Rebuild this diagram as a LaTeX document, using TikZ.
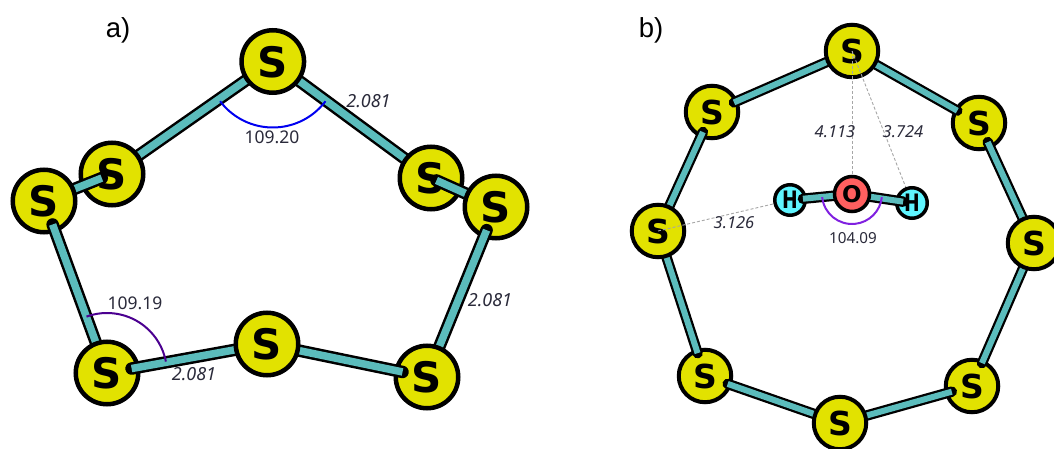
\documentclass[tikz,border=0pt]{standalone}
\usepackage{fontspec}
\setmainfont{Noto Sans}
\newfontfamily\atomfont{DejaVu Sans}[BoldFont={DejaVu Sans Bold}]
\newfontfamily\hfont{DejaVu Sans Bold}[FakeStretch=0.78]
\newfontfamily\panelfont{Liberation Sans}
\definecolor{sulfur}{HTML}{E2E200}
\definecolor{bondc}{HTML}{5BBCBC}
\definecolor{oxy}{HTML}{FF5F5F}
\definecolor{hyd}{HTML}{5FF5FF}
\definecolor{txt}{HTML}{2A2A3A}
\definecolor{angA}{HTML}{0000F0}
\definecolor{angB}{HTML}{4B0090}
\definecolor{angC}{HTML}{8020E0}
\pgfdeclarelayer{l0}\pgfdeclarelayer{l1}\pgfdeclarelayer{l2}\pgfdeclarelayer{l3}
\pgfdeclarelayer{l4}\pgfdeclarelayer{l5}\pgfdeclarelayer{l6}\pgfdeclarelayer{l7}\pgfdeclarelayer{l8}
\pgfsetlayers{l0,l1,l2,l3,l4,l5,l6,l7,l8,main}
\tikzset{
  atomA/.style={circle,draw=black,line width=4.5pt,fill=sulfur,minimum size=62.5pt,inner sep=0pt,
    font=\atomfont\bfseries\fontsize{42}{42}\selectfont,text depth=0pt},
  atomB/.style={circle,draw=black,line width=4pt,fill=sulfur,minimum size=52.5pt,inner sep=0pt,
    font=\atomfont\bfseries\fontsize{33}{33}\selectfont},
  atomO/.style={circle,draw=black,line width=3.5pt,fill=oxy,minimum size=35pt,inner sep=0pt,
    font=\atomfont\bfseries\fontsize{23}{23}\selectfont},
  atomH/.style={circle,draw=black,line width=3.5pt,fill=hyd,minimum size=30.5pt,inner sep=0pt,
    font=\hfont\fontsize{24}{24}\selectfont},
  labA/.style={font=\fontsize{17.5}{17.5}\selectfont,text=txt,inner sep=0pt},
  labB/.style={font=\fontsize{15.2}{15.2}\selectfont,text=txt,inner sep=0pt},
  distA/.style={font=\itshape\fontsize{18}{18}\selectfont,text=txt,inner sep=0pt},
  distB/.style={font=\itshape\fontsize{16.5}{16.5}\selectfont,text=txt,inner sep=0pt},
  panel/.style={font=\panelfont\fontsize{27.5}{27.5}\selectfont,text=black,inner sep=0pt},
  dashln/.style={draw=black!35,line width=0.9pt,dash pattern=on 3pt off 2pt},
  ang/.style={line width=2pt}
}
% \bondln{layer}{a}{b}{shorten at a}{shorten at b}{black width}{teal width}
\newcommand\bondln[7]{\begin{pgfonlayer}{#1}
  \draw[black,line width=#6pt,line cap=round,shorten <=#4pt,shorten >=#5pt] (#2.center) -- (#3.center);
  \draw[bondc,line width=#7pt,shorten <=#4pt,shorten >=#5pt] (#2.center) -- (#3.center);
\end{pgfonlayer}}
\newcommand\atomat[5]{\begin{pgfonlayer}{#1}\node[#2] (#3) at (#4) {#5};\end{pgfonlayer}}
\begin{document}
\begin{tikzpicture}[x=1pt,y=1pt,yscale=-1]
\useasboundingbox (0,0) rectangle (1054,449);
% panel a atoms
\atomat{l1}{atomA}{at}{272.8,61.5}{S}
\atomat{l1}{atomA}{al}{112,174}{S}
\atomat{l1}{atomA}{ar}{431,178}{S}
\atomat{l3}{atomA}{ao}{44,201}{S}
\atomat{l3}{atomA}{ap}{496,207}{S}
\atomat{l5}{atomA}{abl}{107,373}{S}
\atomat{l5}{atomA}{abr}{427,377}{S}
\atomat{l7}{atomA}{am}{267,344}{S}
% panel a bonds
\bondln{l0}{at}{al}{0}{0}{12.5}{7.5}
\bondln{l0}{at}{ar}{0}{0}{12.5}{7.5}
\bondln{l2}{al}{ao}{11}{0}{12.5}{7.5}
\bondln{l2}{ar}{ap}{6}{0}{12.5}{7.5}
\bondln{l4}{ao}{abl}{25}{0}{12.5}{7.5}
\bondln{l4}{ap}{abr}{25}{0}{12.5}{7.5}
\bondln{l6}{abl}{am}{25}{0}{12.5}{7.5}
\bondln{l6}{abr}{am}{25}{0}{12.5}{7.5}
% panel a angles
\draw[ang,draw=angA] (at) ++(143:66) arc (143:37:66);
\draw[ang,draw=angB] (abl) ++(-110:60) arc (-110:-11:60);
% panel b sulfur atoms
\atomat{l1}{atomB}{bul}{712,112}{S}
\atomat{l1}{atomB}{bur}{979,123}{S}
\atomat{l1}{atomB}{bbl}{705,376}{S}
\atomat{l1}{atomB}{bbr}{972,386}{S}
\atomat{l3}{atomB}{bt}{852,51}{S}
\atomat{l3}{atomB}{bl}{658,231}{S}
\atomat{l3}{atomB}{br}{1034,243}{S}
\atomat{l3}{atomB}{bb}{840,423}{S}
% panel b bonds
\bondln{l2}{bul}{bt}{24}{0}{10.5}{6}
\bondln{l2}{bur}{bt}{25}{0}{10.5}{6}
\bondln{l2}{bul}{bl}{22}{0}{10.5}{6}
\bondln{l2}{bur}{br}{21}{0}{10.5}{6}
\bondln{l2}{bbl}{bl}{24}{0}{10.5}{6}
\bondln{l2}{bbl}{bb}{24}{0}{10.5}{6}
\bondln{l2}{bbr}{bb}{21}{0}{10.5}{6}
\bondln{l2}{bbr}{br}{25}{0}{10.5}{6}
% water
\atomat{l5}{atomH}{hl}{790,200}{H}
\atomat{l5}{atomH}{hr}{912,203}{H}
\node[atomO] (ox) at (852,194) {O};
\bondln{l6}{hl}{ox}{13}{0}{10.5}{6}
\bondln{l6}{hr}{ox}{9}{0}{10.5}{6}
\begin{pgfonlayer}{l4}
\draw[dashln] (bt.center) -- (ox.center);
\draw[dashln] (bt.center) -- (hr.center);
\draw[dashln] (bl.center) -- (hl.center);
\end{pgfonlayer}
\begin{pgfonlayer}{l7}
\draw[ang,draw=angC] (ox) ++(174:30) arc (174:6:30);
\end{pgfonlayer}
% labels
\node[panel] (pa) at (118,30) {a)};
\node[panel] (pb) at (651,30) {b)};
\node[labA] (la1) at (272,137) {109.20};
\node[labA] (la2) at (135,303) {109.19};
\node[distA] (da1) at (368.5,101) {2.081};
\node[distA] (da2) at (194,374) {2.081};
\node[distA] (da3) at (490,300) {2.081};
\node[distB] (db1) at (835,132) {4.113};
\node[distB] (db2) at (903,132) {3.724};
\node[distB] (db3) at (734,223) {3.126};
\node[labB] (lb1) at (853,238) {104.09};
\end{tikzpicture}
\end{document}
